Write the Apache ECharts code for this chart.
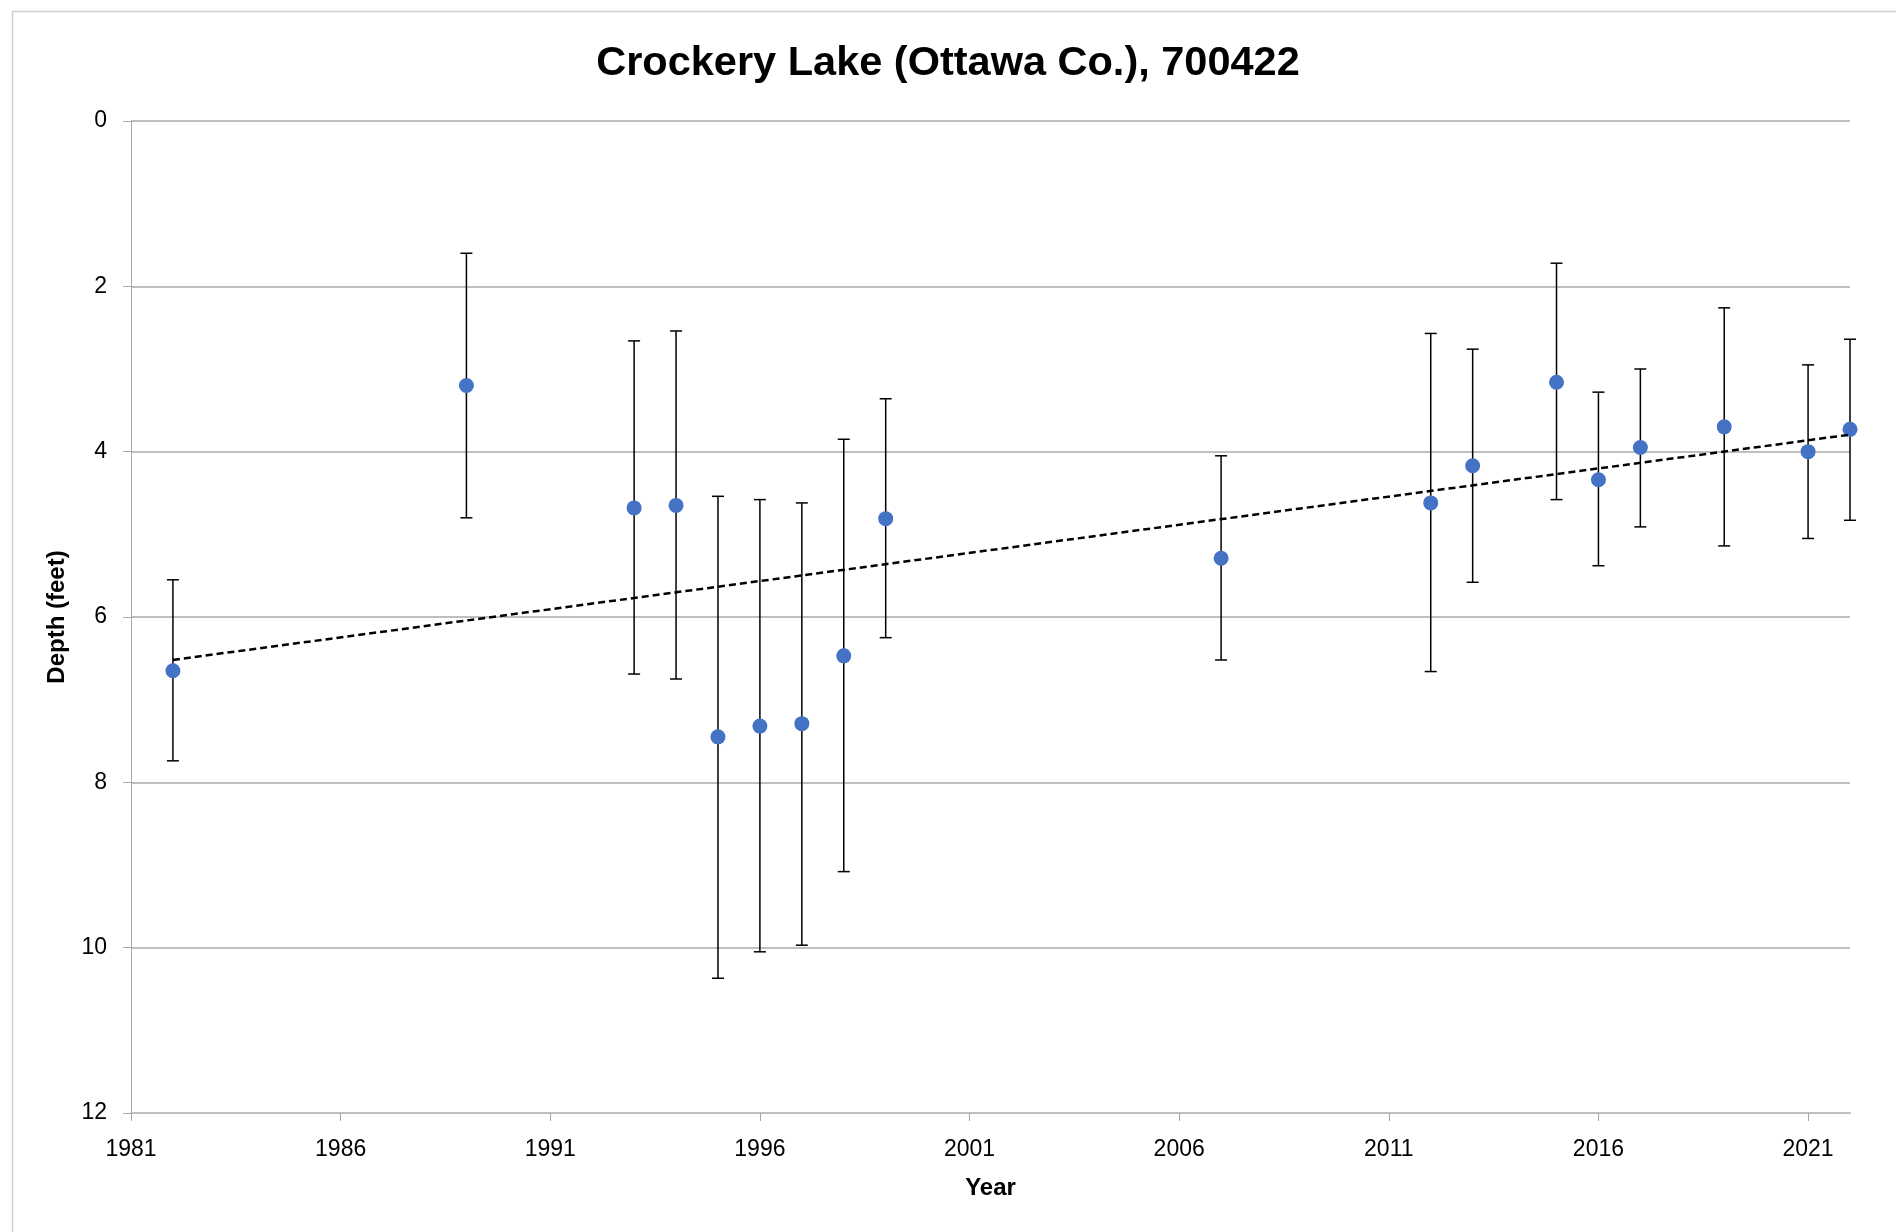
<!DOCTYPE html>
<html>
<head>
<meta charset="utf-8">
<script src="https://cdn.jsdelivr.net/npm/echarts@6.0.0/dist/echarts.min.js"></script>
<style>
html,body{margin:0;padding:0;background:#fff;}
#chart{width:1896px;height:1232px;}
</style>
</head>
<body>
<div id="chart"></div>
<script>
// ---- Data ----
const titleText = 'Crockery Lake (Ottawa Co.), 700422';
const years     = [1982, 1989, 1993, 1994, 1995, 1996, 1997, 1998, 1999, 2007, 2012, 2013, 2015, 2016, 2017, 2019, 2021, 2022];
const depth     = [6.65, 3.20, 4.68, 4.65, 7.45, 7.32, 7.29, 6.47, 4.81, 5.29, 4.62, 4.17, 3.16, 4.34, 3.95, 3.70, 4.00, 3.73];
const errTop    = [5.55, 1.60, 2.66, 2.54, 4.54, 4.58, 4.62, 3.85, 3.36, 4.05, 2.57, 2.76, 1.72, 3.28, 3.00, 2.26, 2.95, 2.64];
const errBottom = [7.74, 4.80, 6.69, 6.75, 10.37, 10.05, 9.97, 9.08, 6.25, 6.52, 6.66, 5.58, 4.58, 5.38, 4.91, 5.14, 5.05, 4.83];
const xTickLabels = [1981, 1986, 1991, 1996, 2001, 2006, 2011, 2016, 2021];
const yTickLabels = [0, 2, 4, 6, 8, 10, 12];

// Linear trendline (least squares) from the data
const n = years.length;
const mx = years.reduce((a, b) => a + b, 0) / n;
const my = depth.reduce((a, b) => a + b, 0) / n;
let sxy = 0, sxx = 0;
for (let i = 0; i < n; i++) { sxy += (years[i] - mx) * (depth[i] - my); sxx += (years[i] - mx) * (years[i] - mx); }
const slope = sxy / sxx;
const icpt = my - slope * mx;
const x0 = Math.min(...years), x1 = Math.max(...years);
const trendData = [[x0, icpt + slope * x0], [x1, icpt + slope * x1]];

const pointData = years.map((y, i) => [y, depth[i]]);
const errData = years.map((y, i) => [y, errTop[i], errBottom[i]]);

const chart = echarts.init(document.getElementById('chart'));
const font = '"Liberation Sans", Arial, sans-serif';

chart.setOption({
  backgroundColor: '#fff',
  animation: false,
  graphic: [{
    type: 'rect', left: 10, top: 9, silent: true,
    shape: { width: 1900, height: 1240 },
    style: { fill: 'none', stroke: '#d0d0d0', lineWidth: 1.5 }
  }],
  title: {
    text: titleText, left: 'center', top: 38,
    textStyle: { fontFamily: font, fontSize: 41.5, fontWeight: 'bold', color: '#000' }
  },
  grid: { left: 131, right: 46, top: 121, bottom: 119, containLabel: false },
  xAxis: {
    type: 'value', min: 1981, max: 2022, interval: 5,
    name: 'Year', nameLocation: 'middle', nameGap: 63,
    nameTextStyle: { fontFamily: font, fontSize: 24, fontWeight: 'bold', color: '#000' },
    axisLine: { onZero: false, lineStyle: { color: '#bfbfbf', width: 2 } },
    axisTick: { show: true, length: 8, lineStyle: { color: '#a6a6a6', width: 1 } },
    axisLabel: {
      fontFamily: font, fontSize: 23, color: '#000', margin: 25,
      showMaxLabel: false,
      formatter: v => (xTickLabels.indexOf(Math.round(v)) >= 0 ? String(Math.round(v)) : '')
    },
    splitLine: { show: false }
  },
  yAxis: {
    type: 'value', inverse: true, min: 0, max: 12, interval: 2,
    name: 'Depth (feet)', nameLocation: 'middle', nameGap: 62, nameRotate: 90,
    nameTextStyle: { fontFamily: font, fontSize: 24, fontWeight: 'bold', color: '#000' },
    axisLine: { show: true, lineStyle: { color: '#a6a6a6', width: 1 } },
    axisTick: { show: true, length: 8, lineStyle: { color: '#a6a6a6', width: 1 } },
    axisLabel: {
      fontFamily: font, fontSize: 23, color: '#000', margin: 24,
      formatter: v => (yTickLabels.indexOf(v) >= 0 ? String(v) : '')
    },
    splitLine: { show: true, lineStyle: { color: '#bfbfbf', width: 2 } }
  },
  series: [
    {
      type: 'custom', name: 'error', z: 2,
      data: errData,
      encode: { x: 0, y: [1, 2] },
      renderItem: function (params, api) {
        const x = api.value(0);
        const pA = api.coord([x, api.value(1)]);
        const pB = api.coord([x, api.value(2)]);
        const hw = 6;
        const st = { stroke: '#000', lineWidth: 1.5 };
        return {
          type: 'group',
          children: [
            { type: 'line', shape: { x1: pA[0], y1: pA[1], x2: pB[0], y2: pB[1] }, style: st },
            { type: 'line', shape: { x1: pA[0] - hw, y1: pA[1], x2: pA[0] + hw, y2: pA[1] }, style: st },
            { type: 'line', shape: { x1: pB[0] - hw, y1: pB[1], x2: pB[0] + hw, y2: pB[1] }, style: st }
          ]
        };
      }
    },
    {
      type: 'scatter', name: 'Depth', z: 3,
      data: pointData,
      symbol: 'circle', symbolSize: 15,
      itemStyle: { color: '#4472C4', opacity: 1 }
    },
    {
      type: 'line', name: 'Trend', z: 4,
      data: trendData,
      showSymbol: false, symbol: 'none',
      lineStyle: { color: '#000', width: 2.5, type: [7, 4] }
    }
  ]
});
</script>
</body>
</html>
